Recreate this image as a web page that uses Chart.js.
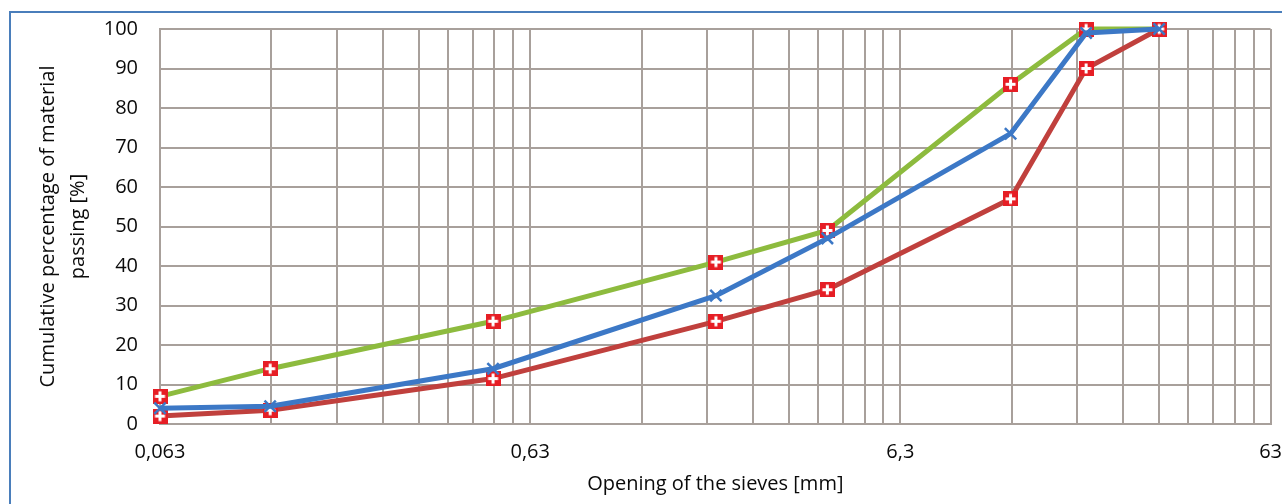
<!DOCTYPE html>
<html>
<head>
<meta charset="utf-8">
<title>Sieve analysis</title>
<script src="https://cdn.jsdelivr.net/npm/chart.js@4"></script>
<style>
    body { margin: 0; background: #ffffff; }
    #wrap { position: relative; width: 1282px; height: 504px; overflow: hidden; }
    #frame { position: absolute; left: 9px; top: 11px; width: 1400px; height: 600px; border: 2px solid #4a7ebb; }
    #chart { position: absolute; left: 0; top: 0; }
</style>
</head>
<body>
<div id="wrap">
    <div id="frame"></div>
    <canvas id="chart" width="1282" height="504"></canvas>
</div>
<script>
// Sieve openings [mm]
const sieveSizes = [0.063, 0.125, 0.5, 2, 4, 12.5, 20, 31.5];

// Cumulative passing [%]
const upperCurve = [7, 14, 26, 41, 49, 86, 100, 100];
const mixCurve = [4, 4.5, 14, 32.5, 47, 73.5, 99, 100];
const lowerCurve = [2, 3.5, 11.5, 26, 34, 57, 90, 100];

// Labelled decades on the x axis
const decadeValues = [0.063, 0.63, 6.3, 63];
const decadeLabels = ['0,063', '0,63', '6,3', '63'];

// Y axis ticks
const yTicks = [0, 10, 20, 30, 40, 50, 60, 70, 80, 90, 100];

const gridColor = '#a8a09b';
const textColor = '#0a0a0a';
const fontFamily = '"Open Sans", sans-serif';

/**
 * Red square with a white plus, used as marker
 */
function makePlusMarker() {
    const c = document.createElement('canvas');
    c.width = 15;
    c.height = 15;
    const g = c.getContext('2d');
    g.fillStyle = '#e61e25';
    g.fillRect(0, 0, 15, 15);
    g.fillStyle = '#ffffff';
    g.fillRect(6, 2.5, 3, 10);
    g.fillRect(2.5, 6, 10, 3);
    return c;
}

function toPoints(values) {
    return sieveSizes.map((s, i) => ({ x: s, y: values[i] }));
}

const plusMarker = makePlusMarker();

new Chart(document.getElementById('chart'), {
    type: 'line',
    data: {
        datasets: [
            {
                label: 'Mix',
                data: toPoints(mixCurve),
                borderColor: '#3c78c6',
                borderWidth: 5,
                pointStyle: 'crossRot',
                pointRadius: 8,
                pointBorderWidth: 2.5,
                pointBorderColor: '#3c78c6',
                pointBackgroundColor: '#3c78c6',
                tension: 0,
                clip: false
            },
            {
                label: 'Upper',
                data: toPoints(upperCurve),
                borderColor: '#8dbb3e',
                borderWidth: 5,
                pointStyle: plusMarker,
                tension: 0,
                clip: false
            },
            {
                label: 'Lower',
                data: toPoints(lowerCurve),
                borderColor: '#c0403d',
                borderWidth: 5,
                pointStyle: plusMarker,
                tension: 0,
                clip: false
            }
        ]
    },
    options: {
        responsive: false,
        animation: false,
        layout: { autoPadding: false, padding: { left: 0, right: 0, top: 29, bottom: 0 } },
        plugins: {
            legend: { display: false },
            tooltip: { enabled: false }
        },
        scales: {
            x: {
                type: 'logarithmic',
                min: decadeValues[0],
                max: decadeValues[decadeValues.length - 1],
                afterBuildTicks: function(scale) {
                    // one grid line for every k * 0.063 * 10^n
                    const ticks = [];
                    for (let d = 0; d < decadeValues.length - 1; d++) {
                        for (let k = 1; k <= 9; k++) {
                            ticks.push({ value: decadeValues[d] * k });
                        }
                    }
                    ticks.push({ value: decadeValues[decadeValues.length - 1] });
                    scale.ticks = ticks;
                },
                afterFit: function(scale) {
                    scale.height = 80;
                },
                grid: { color: gridColor, lineWidth: 2, drawTicks: true, tickLength: 16, tickColor: 'rgba(0,0,0,0)' },
                border: { color: gridColor, width: 2 },
                ticks: {
                    autoSkip: false,
                    maxRotation: 0,
                    padding: 0,
                    color: textColor,
                    font: { family: fontFamily, size: 20 },
                    callback: function(value) {
                        const i = decadeValues.findIndex(v => Math.abs(v - value) < v * 1e-6);
                        return i >= 0 ? decadeLabels[i] : '';
                    }
                },
                title: {
                    display: true,
                    text: 'Opening of the sieves [mm]',
                    color: textColor,
                    font: { family: fontFamily, size: 20 },
                    padding: { top: 0, bottom: 8 }
                }
            },
            y: {
                min: 0,
                max: 100,
                afterBuildTicks: function(scale) {
                    scale.ticks = yTicks.map(v => ({ value: v }));
                },
                afterFit: function(scale) {
                    scale.width = 160;
                },
                grid: { color: gridColor, lineWidth: 2, drawTicks: true, tickLength: 20, tickColor: 'rgba(0,0,0,0)' },
                border: { color: gridColor, width: 2 },
                ticks: {
                    padding: 2,
                    color: textColor,
                    font: { family: fontFamily, size: 20 }
                },
                title: {
                    display: true,
                    text: ['Cumulative percentage of material', 'passing [%]'],
                    color: textColor,
                    font: { family: fontFamily, size: 20, lineHeight: 1.5 },
                    padding: { top: 33, bottom: 0 }
                }
            }
        }
    }
});
</script>
</body>
</html>
